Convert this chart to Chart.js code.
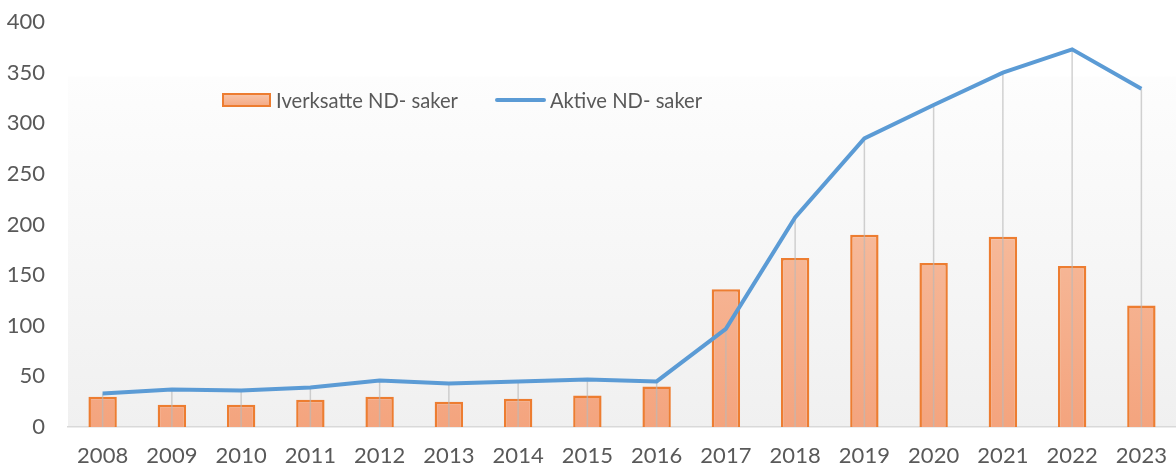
<!DOCTYPE html>
<html>
<head>
<meta charset="utf-8">
<script src="https://cdn.jsdelivr.net/npm/chart.js@4"></script>
<style>
    body { margin: 0; background: #fff; overflow: hidden; }
    .wrap { position: relative; width: 1176px; height: 466px; }
    canvas { display: block; }
    .legend {
        position: absolute; top: 88px; left: 222px;
        font-family: Lato, sans-serif; font-size: 20.2px; color: #595959;
        display: flex; align-items: center; white-space: nowrap;
    }
    .legend .box {
        width: 45px; height: 10px; border: 2.5px solid #ED7D31;
        background: linear-gradient(#F8C3A6, #F5AC88); margin-right: 5px;
    }
    .legend .ln {
        width: 51px; height: 4px; background: #5B9BD5; border-radius: 2px;
        margin-left: 37px; margin-right: 4px;
    }
</style>
</head>
<body>
<div class="wrap">
    <canvas id="chart" width="1176" height="466"></canvas>
    <div class="legend">
        <span class="box"></span><span>Iverksatte ND- saker</span>
        <span class="ln"></span><span>Aktive ND- saker</span>
    </div>
</div>
<script>
// Data
const years = ["2008", "2009", "2010", "2011", "2012", "2013", "2014", "2015",
               "2016", "2017", "2018", "2019", "2020", "2021", "2022", "2023"];
const iverksatte = [30, 22, 22, 27, 30, 25, 28, 31, 40, 136, 167, 190, 162, 188, 159, 120];
const aktive = [33, 37, 36, 39, 46, 43, 45, 47, 45, 97, 207, 285, 318, 350, 373, 334];
const yTicks = [0, 50, 100, 150, 200, 250, 300, 350, 400];

// plot background, white fading to light grey
const plotBg = {
    id: 'plotBg',
    beforeDraw(chart) {
        const { ctx, chartArea: a } = chart;
        const top = a.top + (a.bottom - a.top) * 0.135;
        const g = ctx.createLinearGradient(0, top, 0, a.bottom);
        g.addColorStop(0, '#fdfdfd');
        g.addColorStop(1, '#f0f0f0');
        ctx.save();
        ctx.fillStyle = g;
        ctx.fillRect(a.left, top, a.right - a.left, a.bottom - top);
        ctx.restore();
    }
};

// drop lines from the line points down to the axis
const dropLines = {
    id: 'dropLines',
    afterDatasetDraw(chart, args) {
        if (args.index !== 0) return;
        const ctx = chart.ctx;
        const x = chart.scales.x, y = chart.scales.y;
        ctx.save();
        ctx.strokeStyle = 'rgba(185,185,185,0.65)';
        ctx.lineWidth = 1.5;
        aktive.forEach((v, i) => {
            const px = x.getPixelForValue(i);
            ctx.beginPath();
            ctx.moveTo(px, y.getPixelForValue(v));
            ctx.lineTo(px, y.getPixelForValue(0));
            ctx.stroke();
        });
        ctx.restore();
    }
};

const barFill = (c) => {
    const a = c.chart.chartArea;
    if (!a) return '#F6B899';
    const g = c.chart.ctx.createLinearGradient(0, a.top, 0, a.bottom);
    g.addColorStop(0, '#F9D0B8');
    g.addColorStop(1, '#F4A47E');
    return g;
};

const tickFont = { family: 'Lato', size: 22, lineHeight: 1.0 };

new Chart(document.getElementById('chart'), {
    type: 'bar',
    data: {
        labels: years,
        datasets: [{
            type: 'bar',
            label: 'Iverksatte ND- saker',
            data: iverksatte,
            backgroundColor: barFill,
            borderColor: '#ED7D31',
            borderWidth: 2.5,
            barPercentage: 0.82,
            categoryPercentage: 0.5,
            order: 2
        }, {
            type: 'line',
            label: 'Aktive ND- saker',
            data: aktive,
            borderColor: '#5B9BD5',
            borderWidth: 4,
            pointRadius: 0,
            pointHoverRadius: 0,
            tension: 0,
            order: 1
        }]
    },
    options: {
        responsive: false,
        animation: false,
        layout: { padding: 0, autoPadding: false },
        scales: {
            x: {
                grid: { display: false, drawTicks: false },
                border: { color: '#d9d9d9', width: 1.5 },
                ticks: { font: tickFont, color: '#595959', padding: 18, maxRotation: 0, autoSkip: false },
                afterFit: (s) => { s.height = 39; s.paddingLeft = 0; s.paddingRight = 0; }
            },
            y: {
                min: 0,
                max: 400,
                afterBuildTicks: (s) => { s.ticks = yTicks.map(v => ({ value: v })); },
                grid: { display: false, drawTicks: false },
                border: { display: false },
                ticks: { font: tickFont, color: '#595959', padding: 23 },
                afterFit: (s) => { s.width = 68; s.paddingTop = 22; s.paddingBottom = 0; }
            }
        },
        plugins: {
            legend: { display: false },
            tooltip: { enabled: false }
        }
    },
    plugins: [plotBg, dropLines]
});
</script>
</body>
</html>
